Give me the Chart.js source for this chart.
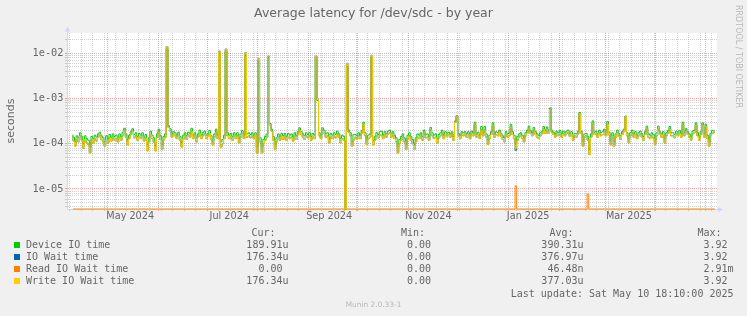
<!DOCTYPE html>
<html><head><meta charset="utf-8">
<script src="https://cdn.jsdelivr.net/npm/chart.js@4/dist/chart.umd.min.js"></script>
<style>html,body{margin:0;padding:0;background:#F0F0F0;}canvas{display:block;}</style>
</head><body>
<canvas id="c" width="747" height="316"></canvas>
<script>
// x values are days since 2024-01-01 (day 0); one consolidated (daily) point per day
const firstDay = 100;
const xMinDay = 96.4, xMaxDay = 493.3;

// Device IO time, microseconds
const deviceUs = [
160,140,110,150,135,175,145,100,150,130,
120,85,145,130,155,140,165,180,150,135,
110,150,130,160,140,165,145,155,135,165,
145,180,220,165,120,155,185,215,160,175,
145,170,155,175,140,160,95,135,190,155,
135,90,165,210,150,95,145,165,12500,250,
215,165,185,175,155,180,145,105,155,175,
150,180,165,220,155,175,135,165,200,155,
175,190,155,170,195,150,115,165,210,155,
10000,110,125,155,11000,175,155,170,145,175,
155,175,130,165,195,155,9000,165,175,160,
175,155,175,85,6500,135,85,125,145,165,
8000,280,210,145,95,135,165,145,170,150,
170,145,170,155,165,140,175,150,185,225,
185,165,150,175,160,175,145,170,155,8000,
900,175,155,225,200,165,175,130,170,155,
175,160,190,165,130,155,145,0,5000,200,
175,110,160,160,150,175,155,195,300,175,
120,155,165,8000,120,145,175,160,185,190,
155,185,165,190,200,165,185,155,135,85,
125,145,165,135,95,155,175,145,125,95,
135,165,155,175,145,200,160,165,145,230,
175,155,165,130,160,175,200,155,185,170,
180,165,185,145,320,420,170,155,185,175,
185,165,185,155,190,175,300,165,180,155,
240,175,240,165,120,155,185,290,165,185,
175,200,170,150,135,185,165,175,270,185,
155,100,145,165,175,155,135,175,200,245,
195,175,230,185,165,150,175,190,240,195,
235,195,620,200,180,165,190,175,195,165,
190,175,190,200,170,185,140,170,165,190,
490,190,110,165,170,145,75,165,320,180,
190,165,200,175,185,210,175,310,180,115,
175,110,165,200,170,150,185,210,410,175,
130,175,200,165,185,155,175,190,165,145,
185,245,165,155,175,160,120,175,245,185,
165,185,130,175,195,240,175,175,160,190,
175,195,165,300,175,215,185,165,145,190,
200,290,175,140,185,290,165,270,155,110,
170,195,190
];

// IO Wait time, microseconds
const ioWaitUs = [
140,115,89,130,110,150,120,80,125,105,
95,63,120,105,130,115,140,160,125,110,
89,125,105,135,115,140,120,130,110,140,
120,150,200,140,95,130,160,190,135,150,
120,145,130,150,115,135,70,110,160,130,
110,70,140,180,125,75,120,140,14000,230,
190,140,165,150,130,155,120,85,130,150,
125,155,140,190,130,150,110,140,170,130,
150,165,130,145,170,125,95,140,180,130,
11200,85,100,130,12400,150,130,145,120,150,
130,150,105,140,170,130,10300,140,150,135,
150,130,160,63,7600,110,63,100,120,140,
8700,260,190,120,75,110,140,120,150,125,
150,120,145,130,140,115,150,125,160,200,
160,140,125,150,135,150,120,145,130,8700,
1000,150,130,200,170,140,150,105,145,130,
150,135,165,140,105,130,120,0,6000,180,
150,89,120,140,125,150,130,170,280,150,
97,130,140,9000,95,120,150,135,160,150,
130,160,140,165,175,140,160,130,110,63,
100,120,140,110,75,130,150,120,100,75,
110,140,130,150,120,175,135,140,120,205,
150,130,140,105,135,150,175,130,160,145,
160,140,165,120,300,410,148,130,165,150,
170,140,165,130,170,150,260,140,160,130,
200,150,200,140,97,130,160,250,140,160,
150,180,145,125,110,160,140,150,230,160,
130,72,120,140,155,130,110,150,175,215,
170,150,200,160,140,130,150,165,210,170,
210,170,580,180,160,140,165,150,170,140,
165,150,170,175,145,160,120,150,140,165,
470,170,89,140,150,120,58,140,290,160,
170,140,175,150,160,185,150,270,160,95,
150,89,140,175,145,125,160,185,400,150,
105,150,175,140,160,130,150,165,140,120,
160,215,140,130,150,135,97,150,215,160,
140,160,105,150,170,210,150,150,135,165,
150,170,140,260,150,190,160,140,120,165,
175,260,150,120,160,260,140,240,130,89,
150,170,176
];

// Write IO Wait time, microseconds
const writeWaitUs = [
140,115,89,130,110,150,120,80,125,105,
95,63,120,105,130,115,140,160,125,110,
89,125,105,135,115,140,120,130,110,140,
120,150,200,140,95,130,160,190,135,150,
120,145,130,150,115,135,70,110,160,130,
110,70,140,180,125,75,120,140,14000,230,
190,140,165,150,130,155,120,85,130,150,
125,155,140,190,130,150,110,140,170,130,
150,165,130,145,170,125,95,140,180,130,
11200,85,100,130,12400,150,130,145,120,150,
130,150,105,140,170,130,10300,140,150,135,
150,130,160,63,7600,110,63,100,120,140,
8700,260,190,120,75,110,140,120,150,125,
150,120,145,130,140,115,150,125,160,200,
160,140,125,150,135,150,120,145,130,8700,
1000,150,130,200,170,140,150,105,145,130,
150,135,165,140,105,130,120,0,6000,180,
150,89,120,140,125,150,130,170,280,150,
97,130,140,9000,95,120,150,135,160,150,
130,160,140,165,175,140,160,130,110,63,
100,120,140,110,75,130,150,120,100,75,
110,140,130,150,120,175,135,140,120,205,
150,130,140,105,135,150,175,130,160,145,
160,140,165,120,300,410,148,130,165,150,
170,140,165,130,170,150,260,140,160,130,
200,150,200,140,97,130,160,250,140,160,
150,180,145,125,110,160,140,150,230,160,
130,80,120,140,155,130,110,150,175,215,
170,150,200,160,140,130,150,165,210,170,
210,170,580,180,160,140,165,150,170,140,
165,150,170,175,145,160,120,150,140,165,
470,170,89,140,150,120,58,140,290,160,
170,140,175,150,160,185,150,270,160,95,
150,89,140,175,145,125,160,185,400,150,
105,150,175,140,160,130,150,165,140,120,
160,215,140,130,150,135,97,150,215,160,
140,160,105,150,170,210,150,150,135,165,
150,170,140,260,150,190,160,140,120,165,
175,260,150,120,160,260,140,240,130,89,
150,170,176
];

// Read IO Wait time: zero except two small bumps
const readWaitDays = [100, 370, 371, 372, 414, 415, 416, 492];
const readWaitUs   = [0, 0, 11.7, 0, 0, 7.75, 0, 0];

const seriesNames  = ['Device IO time', 'IO Wait time', 'Read IO Wait time', 'Write IO Wait time'];
const seriesColors = ['#00CC00', '#0066B3', '#FF8000', '#FFCC00'];
const curVals = ['189.91u', '176.34u', '0.00 ', '176.34u'];
const minVals = ['0.00 ', '0.00 ', '0.00 ', '0.00 '];
const avgVals = ['390.31u', '376.97u', '46.48n', '377.03u'];
const maxVals = ['3.92 ', '3.92 ', '2.91m', '3.92 '];

// month starts (days since 2024-01-01) and x tick labels
const monthStartDays = [121, 152, 182, 213, 244, 274, 305, 335, 366, 397, 425, 456, 486];
const xLabelDays = [135, 195.5, 256.5, 317, 378, 439.5];
const xLabels = ['May 2024', 'Jul 2024', 'Sep 2024', 'Nov 2024', 'Jan 2025', 'Mar 2025'];

const yDecades = [1e-5, 1e-4, 1e-3, 1e-2];
const yLabels = ['1e-05', '1e-04', '1e-03', '1e-02'];
const yMin = 3.61e-6, yMax = 0.0281;

// ---- grid tick positions ----
const xGrid = [];
for (let d = 98; d <= xMaxDay; d += 7) if (d >= xMinDay) xGrid.push({value: d, major: monthStartDays.includes(d)});
monthStartDays.forEach(d => { if (d >= xMinDay && d <= xMaxDay && !xGrid.some(t => t.value === d)) xGrid.push({value: d, major: true}); });
xGrid.sort((a, b) => a.value - b.value);

const yGrid = [];
for (let k = -6; k <= -2; k++) {
  for (let m = 1; m <= 9; m++) {
    const v = m * Math.pow(10, k);
    if (v >= yMin && v <= yMax) yGrid.push({value: v, major: m === 1});
  }
}

const MINOR = 'rgba(143,143,143,0.42)';
const MAJOR = 'rgba(222,79,79,0.5)';
const FONTC = '#666666';

// zero cannot sit on a log axis: like rrdtool, it is drawn on the bottom edge
const onAxis = (sec) => Math.max(sec, yMin);
const toPts = (arr) => arr.map((v, i) => ({x: firstDay + i, y: onAxis(v * 1e-6)}));

const mk = (idx, data, order) => ({
  label: seriesNames[idx],
  data: data,
  borderColor: seriesColors[idx],
  backgroundColor: seriesColors[idx],
  borderWidth: 1,
  pointRadius: 0,
  stepped: 'after',
  fill: false,
  clip: false,
  order: order,
  xAxisID: 'x', yAxisID: 'y'
});

const datasets = [
  mk(0, toPts(deviceUs), 4),
  mk(1, toPts(ioWaitUs), 3),
  mk(2, readWaitDays.map((d, i) => ({x: d, y: onAxis(readWaitUs[i] * 1e-6)})), 2),
  mk(3, toPts(writeWaitUs), 1)
];

const muninPlugin = {
  id: 'munin',
  beforeDraw(chart) {
    const {ctx, chartArea: a} = chart;
    ctx.save();
    ctx.fillStyle = '#F0F0F0';
    ctx.fillRect(0, 0, chart.width, chart.height);
    ctx.fillStyle = '#FFFFFF';
    ctx.fillRect(a.left, a.top, a.right - a.left, a.bottom - a.top);
    ctx.restore();
  },
  afterDraw(chart) {
    const {ctx, chartArea: a} = chart;
    ctx.save();
    // arrows
    ctx.strokeStyle = '#CFD6F8';
    ctx.fillStyle = '#CFD6F8';
    ctx.lineWidth = 1;
    ctx.beginPath(); ctx.moveTo(a.left + 0.5, a.top); ctx.lineTo(a.left + 0.5, a.top - 3); ctx.stroke();
    ctx.beginPath(); ctx.moveTo(a.left - 2, a.top - 1.5); ctx.lineTo(a.left + 3, a.top - 1.5); ctx.lineTo(a.left + 0.5, a.top - 6.5); ctx.closePath(); ctx.fill();
    ctx.beginPath(); ctx.moveTo(a.right, a.bottom + 0.5); ctx.lineTo(a.right + 1, a.bottom + 0.5); ctx.stroke();
    ctx.beginPath(); ctx.moveTo(a.right + 1, a.bottom - 2); ctx.lineTo(a.right + 1, a.bottom + 3); ctx.lineTo(a.right + 6, a.bottom + 0.5); ctx.closePath(); ctx.fill();

    // legend
    ctx.fillStyle = FONTC;
    ctx.font = '10px "DejaVu Sans Mono"';
    ctx.textBaseline = 'middle';
    ctx.textAlign = 'left';
    ctx.fillText('Cur:', 251.5, 233.5);
    ctx.fillText('Min:', 401, 233.5);
    ctx.fillText('Avg:', 549.5, 233.5);
    ctx.fillText('Max:', 697.5, 233.5);
    chart.data.datasets.forEach((ds, i) => {
      const y = 245.5 + 12 * i;
      ctx.fillStyle = ds.borderColor;
      ctx.fillRect(14, 242 + 12 * i, 6, 6);
      ctx.fillStyle = FONTC;
      ctx.textAlign = 'left';
      ctx.fillText(ds.label, 26, y);
      ctx.textAlign = 'right';
      ctx.fillText(curVals[i], 288.5, y);
      ctx.fillText(minVals[i], 437, y);
      ctx.fillText(avgVals[i], 583.5, y);
      ctx.fillText(maxVals[i], 733.5, y);
    });
    ctx.textAlign = 'right';
    ctx.fillText('Last update: Sat May 10 18:10:00 2025', 733.5, 294);

    // watermarks
    ctx.fillStyle = '#B8B8B8';
    ctx.textAlign = 'center';
    ctx.font = '7.4px "DejaVu Sans"';
    ctx.fillText('Munin 2.0.33-1', 373.5, 305);
    ctx.save();
    ctx.translate(738.5, 5);
    ctx.rotate(Math.PI / 2);
    ctx.textAlign = 'left';
    ctx.font = '8px "DejaVu Sans"';
    ctx.fillText('RRDTOOL / TOBI OETIKER', 0, 0);
    ctx.restore();
    ctx.restore();
  }
};

const gridColor = (c) => (c.tick && c.tick.major) ? MAJOR : MINOR;

new Chart(document.getElementById('c'), {
  type: 'line',
  data: {datasets},
  plugins: [muninPlugin],
  options: {
    responsive: false,
    devicePixelRatio: 1,
    animation: false,
    events: [],
    font: {family: 'DejaVu Sans'},
    layout: {padding: {left: 0, right: 0, top: 0, bottom: 87}},
    plugins: {
      legend: {display: false},
      tooltip: {enabled: false},
      title: {
        display: true,
        text: 'Average latency for /dev/sdc - by year',
        color: FONTC,
        font: {family: 'DejaVu Sans', size: 12.5, weight: 'normal', lineHeight: 1.2},
        padding: {top: 6, bottom: 12}
      }
    },
    scales: {
      x: {
        type: 'linear', position: 'bottom',
        min: xMinDay, max: xMaxDay,
        afterBuildTicks: (s) => { s.ticks = xGrid.map(t => ({value: t.value, major: t.major})); },
        afterFit: (s) => { s.height = 0; },
        ticks: {display: false},
        grid: {color: gridColor, lineWidth: 1, drawTicks: true, tickLength: 2, borderDash: [1, 1]},
        border: {display: true, color: '#CFD6F8', width: 1, dash: [1, 1]}
      },
      xl: {
        type: 'linear', position: 'bottom',
        min: xMinDay, max: xMaxDay,
        afterBuildTicks: (s) => { s.ticks = xLabelDays.map(v => ({value: v})); },
        afterFit: (s) => { s.height = 20; },
        ticks: {
          autoSkip: false, maxRotation: 0, minRotation: 0, padding: 2,
          color: FONTC, font: {family: 'DejaVu Sans', size: 9.7},
          callback: (v, i) => xLabels[i]
        },
        grid: {display: false, drawTicks: false},
        border: {display: false}
      },
      y: {
        type: 'logarithmic', position: 'left',
        min: yMin, max: yMax,
        afterBuildTicks: (s) => { s.ticks = yGrid.map(t => ({value: t.value, major: t.major})); },
        afterFit: (s) => { s.width = 67; },
        ticks: {
          autoSkip: false, padding: 1.5,
          color: FONTC, font: {family: 'DejaVu Sans Mono', size: 10.3},
          callback: (v) => {
            const i = yDecades.findIndex(d => Math.abs(d - v) / d < 1e-6);
            return i >= 0 ? yLabels[i] : '';
          }
        },
        grid: {color: gridColor, lineWidth: 1, drawTicks: true, tickLength: 2, borderDash: [1, 1]},
        border: {display: true, color: '#CFD6F8', width: 1, dash: [1, 1]},
        title: {
          display: true, text: 'seconds', color: FONTC,
          font: {family: 'DejaVu Sans', size: 11},
          padding: {top: 4.5, bottom: 0}
        }
      },
      yr: {
        type: 'linear', position: 'right',
        min: 0, max: 1,
        afterFit: (s) => { s.width = 30; },
        ticks: {display: false},
        grid: {display: false, drawTicks: false},
        border: {display: false}
      }
    }
  }
});
</script>
</body></html>
